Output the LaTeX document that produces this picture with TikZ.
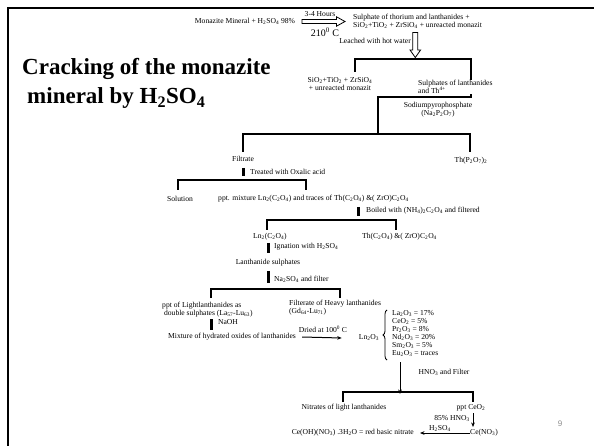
\documentclass[tikz,border=0pt]{standalone}
\usepackage{fontspec}
\setmainfont{Liberation Serif}
\newfontfamily\pgsans{Liberation Sans}
\usetikzlibrary{arrows.meta,decorations.pathreplacing}
\newcommand\smallfs{\fontsize{7.6}{8}\selectfont}
\newcommand\sbs[1]{\textsubscript{#1}}
\newcommand\sps[1]{\textsuperscript{#1}}
\begin{document}
\begin{tikzpicture}[x=1pt,y=-1pt,
  t/.style={inner sep=0pt, font=\smallfs, align=left},
  tc/.style={inner sep=0pt, font=\smallfs, align=center},
  bk/.style={line width=2.2pt},
  conn/.style={line width=3pt},
  arr/.style={-{Stealth[length=4.5pt,width=3.6pt]}, line width=0.7pt},
  hollow/.style={line width=0.8pt, fill=white}]
\useasboundingbox (0,0) rectangle (594,446);
% frame
\draw[line width=2pt] (8,446) -- (8,8) -- (594,8);
% title
\node[anchor=base west, inner sep=0pt, font=\bfseries\fontsize{23}{28}\selectfont] (title1) at (22,75) {Cracking of the monazite};
\node[anchor=base west, inner sep=0pt, font=\bfseries\fontsize{23}{28}\selectfont] (title2) at (27,104) {mineral by H\sbs{2}SO\sbs{4}};
% top row
\node[tc] (mon) at (245,21) {Monazite Mineral + H\sbs{2}SO\sbs{4} 98\%};
\node[tc] (hours) at (320,14.5) {3-4 Hours};
\node[inner sep=0pt, font=\fontsize{10}{11}\selectfont] (temp) at (325,32) {210\sps{0} C};
\node[t, anchor=west] (sulph) at (353,21) {Sulphate of thorium and lanthanides +\\SiO\sbs{2}+TiO\sbs{2} + ZrSiO\sbs{4} + unreacted monazit};
\draw[hollow] (302,19.5) -- (336.5,19.5) -- (336.5,16.8) -- (345,21.5) -- (336.5,26.2) -- (336.5,23.5) -- (302,23.5) -- cycle;
\node[t, anchor=east] (leach) at (411,41) {Leached with hot water};
\draw[hollow] (412.8,32.5) -- (412.8,50) -- (410,50) -- (415.3,57.5) -- (420.6,50) -- (417.8,50) -- (417.8,32.5) -- cycle;
% first bracket
\coordinate (b1l) at (355,72);
\coordinate (b1m) at (415.3,59);
\coordinate (b1r) at (471,97);
\coordinate (b1j) at (378,134);
\draw[bk] (b1l) |- (b1m) -| (b1r) -| (b1j);
\node[tc] (sio) at (340,84) {SiO\sbs{2}+TiO\sbs{2} + ZrSiO\sbs{4}\\+ unreacted monazit};
\node[t, anchor=west, fill=white] (sull) at (418,87) {Sulphates of lanthanides\\and Th\sps{4+}};
\node[tc] (sodium) at (438,110) {Sodiumpyrophosphate\\(Na\sbs{2}P\sbs{2}O\sbs{7})};
% second bracket
\coordinate (b2l) at (243,152);
\coordinate (b2r) at (470,152);
\draw[bk] (b2l) |- (b1j) -| (b2r);
\node[tc] (filtrate) at (243,159) {Filtrate};
\node[tc] (thpo) at (471,161) {Th(P\sbs{2}O\sbs{7})\sbs{2}};
\coordinate (c1t) at (243,168);
\coordinate (c1b) at (243,176.5);
\draw[conn] (c1t) -- (c1b);
\node[t, anchor=west] (treated) at (250,172) {Treated with Oxalic acid};
% third bracket
\coordinate (b3l) at (178,190);
\coordinate (b3m) at (243,180);
\coordinate (b3r) at (306,190);
\draw[bk] (b3l) |- (b3m) -| (b3r);
\node[tc] (solution) at (180,199) {Solution};
\node[t, anchor=west] (pptmix) at (218,199) {ppt. mixture Ln\sbs{2}(C\sbs{2}O\sbs{4}) and traces of Th(C\sbs{2}O\sbs{4}) \&( ZrO)C\sbs{2}O\sbs{4}};
\coordinate (c2t) at (358,207);
\coordinate (c2b) at (358,216);
\draw[conn] (c2t) -- (c2b);
\node[t, anchor=west] (boiled) at (366,211) {Boiled with (NH\sbs{4})\sbs{2}C\sbs{2}O\sbs{4} and filtered};
% fourth bracket
\coordinate (b4l) at (267,230);
\coordinate (b4m) at (358,220);
\coordinate (b4r) at (396,230);
\draw[bk] (b4l) |- (b4m) -| (b4r);
\node[tc] (lnox) at (270,237) {Ln\sbs{2}(C\sbs{2}O\sbs{4})};
\node[t, anchor=west] (thox) at (362,237) {Th(C\sbs{2}O\sbs{4}) \&( ZrO)C\sbs{2}O\sbs{4}};
\coordinate (c3t) at (268,243);
\coordinate (c3b) at (268,253);
\draw[conn] (c3t) -- (c3b);
\node[t, anchor=west] (ign) at (274,247) {Ignation with H\sbs{2}SO\sbs{4}};
\node[tc] (lansul) at (268,263) {Lanthanide sulphates};
\coordinate (c4t) at (268,271);
\coordinate (c4b) at (268,283);
\draw[conn] (c4t) -- (c4b);
\node[t, anchor=west] (naso) at (274,279) {Na\sbs{2}SO\sbs{4} and filter};
% fifth bracket
\coordinate (b5l) at (211,298);
\coordinate (b5m) at (268,289);
\coordinate (b5r) at (340,298);
\draw[bk] (b5l) |- (b5m) -| (b5r);
\node[t, anchor=west] (pptlight) at (162,309.5) {ppt of Lightlanthanides as\\\ double sulphates (La\sbs{57}-Lu\sbs{63})};
\node[t, anchor=west] (heavy) at (289,307.5) {Filterate of Heavy lanthanides\\(Gd\sbs{64}-Lu\sbs{71})};
\coordinate (c5t) at (211,319);
\coordinate (c5b) at (211,330);
\draw[conn] (c5t) -- (c5b);
\node[tc] (naoh) at (228,322) {NaOH};
\node[tc] (mixture) at (232,337) {Mixture of hydrated oxides of lanthanides};
\node[tc] (ln2o3) at (369,338) {Ln\sbs{2}O\sbs{3}};
\draw[arr, line width=1pt] ([xshift=6pt]mixture.east) -- ([xshift=-17pt]ln2o3.west);
\node[tc] (dried) at (323,329) {Dried at 100\sps{0} C};
\coordinate (brt) at (387,310);
\coordinate (brb) at (387,360);
\draw[line width=0.8pt, decorate, decoration={brace, amplitude=4pt}] (brb) -- (brt);
\node[t, anchor=west] (list) at (392,333.5) {La\sbs{2}O\sbs{3} = 17\%\\CeO\sbs{2} = 5\%\\Pr\sbs{2}O\sbs{3} = 8\%\\Nd\sbs{2}O\sbs{3} = 20\%\\Sm\sbs{2}O\sbs{3} = 5\%\\Eu\sbs{2}O\sbs{3} = traces};
% sixth bracket
\coordinate (b6l) at (343,402);
\coordinate (b6m) at (400,392);
\coordinate (b6r) at (473,402);
\coordinate (a1s) at (400,362);
\draw[arr] (a1s) -- ([yshift=-2pt]b6m);
\node[tc] (hno) at (444,372) {HNO\sbs{3} and Filter};
\draw[bk] (b6l) |- (b6m) -| (b6r);
\node[tc] (nitr) at (344,407.5) {Nitrates of light lanthanides};
\node[tc] (ceo2) at (471,407.5) {ppt CeO\sbs{2}};
\node[t, anchor=west] (ceno) at (470,433) {Ce(NO\sbs{3})};
\draw[arr] ([yshift=-2pt]ceo2.south -| 473,0) -- (473,427);
\node[t, anchor=east] (hn85) at (470,418.5) {85\% HNO\sbs{3}};
\node[t, anchor=east] (ceoh) at (414,433) {Ce(OH)(NO\sbs{3}) .3H\sbs{2}O = red basic nitrate};
\draw[arr] (ceno.west) -- ([xshift=6pt]ceoh.east);
\node[tc] (hso) at (440,428) {H\sbs{2}SO\sbs{4}};
% page number
\node[inner sep=0pt, font=\pgsans\fontsize{8}{9}\selectfont, text=black!45] (pg) at (560,424) {9};
\end{tikzpicture}
\end{document}
